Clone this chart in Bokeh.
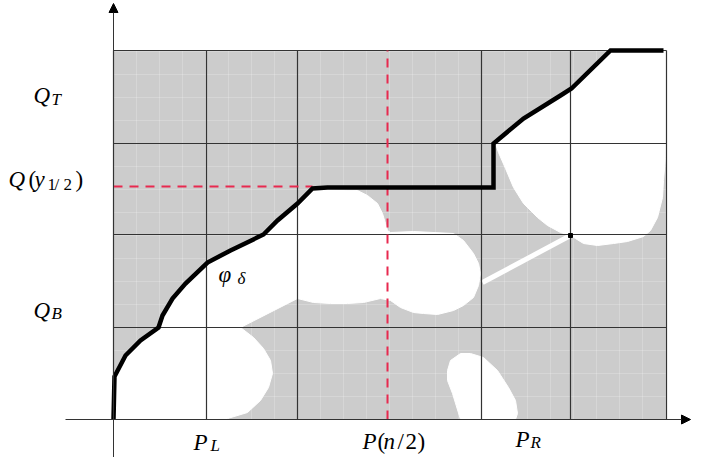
import numpy as np
from bokeh.plotting import figure
from bokeh.models import ColumnDataSource, Arrow, NormalHead, Range1d
from bokeh.embed import file_html
from bokeh.resources import INLINE
from bokeh.core.properties import value

# ---- diagram data (diagram units: u to the right, v upward) ----
col_edges = [0, 93, 184, 368, 457, 553]
row_edges = [0, 92, 185, 276, 369]
minor_step = 23

median_u = 274          # P(n/2)
median_v = 233          # Q(y_1/2)

# staircase-like curve phi_delta
phi_u = [0, 1, 12, 27, 45, 49, 59, 72, 94, 117, 150, 164, 184, 199, 214, 380, 380, 410, 447, 458, 497, 550]
phi_v = [0, 43, 64, 79, 92, 104, 121, 136, 157, 169, 185, 199, 216, 231, 232, 232, 276, 301, 324, 331, 369, 369]

# white (feasible) region below/right of the curve, left part
blob1_u = [0, 1, 12, 27, 45, 49, 59, 72, 94, 117, 150, 164, 184, 199, 214,
           244, 254, 264, 269, 272, 274, 277, 300, 340, 350, 360, 365, 367, 365, 360, 350, 340,
           324, 310, 300, 287, 277, 267, 250, 234, 217, 200, 184,
           127, 140, 150, 157, 159, 155, 147, 134, 114, 94]
blob1_v = [0, 43, 64, 79, 92, 104, 121, 136, 157, 169, 185, 199, 216, 230, 230,
           229, 224, 216, 206, 196, 189, 187, 188, 186, 179, 166, 156, 146, 134, 122, 114, 109,
           105, 106, 107, 112, 119, 121, 117, 116, 116, 117, 121,
           92, 82, 71, 59, 46, 32, 19, 7, 1, 0]

# white region right of the vertical jump
blob2_u = [380, 410, 447, 458, 497, 553, 553, 552, 550, 549, 544, 537, 530, 514, 500, 484, 470, 462,
           457, 447, 434, 424, 410, 400, 392, 385, 382]
blob2_v = [276, 301, 324, 331, 369, 369, 276, 262, 239, 222, 202, 189, 183, 178, 176, 174, 176, 181,
           184, 187, 194, 202, 216, 232, 251, 267, 276]

# small white ellipse at the bottom
blob3_u = [334, 337, 347, 357, 370, 384, 395, 402, 404, 402, 347, 339, 334]
blob3_v = [49, 59, 66, 66, 62, 49, 32, 19, 6, 0, 0, 26, 39]

# thin white bridge
bridge_u = [369, 457]
bridge_v = [137, 184]

# labels (pieces of the math labels)
lab_text = ["Q", "T",
            "Q", "(", "y", "1", "/", "2", ")",
            "Q", "B",
            "P", "L",
            "P", "(", "n", "/", "2", ")",
            "P", "R",
            "φ", "δ"]
lab_u = [-80, -62,
         -105, -85, -79, -66, -59, -50, -38,
         -80, -62,
         80, 97,
         249, 264, 270, 284, 292, 304,
         402, 417,
         105, 124]
lab_v = [324, 320,
         240, 240, 240, 235, 235, 235, 240,
         109, 106,
         -23, -26,
         -22, -22, -22, -22, -22, -22,
         -20, -23,
         145, 141]
lab_size = ["23px", "17px",
            "23px", "23px", "23px", "17px", "17px", "17px", "23px",
            "23px", "17px",
            "23px", "17px",
            "23px", "23px", "23px", "23px", "23px", "23px",
            "23px", "17px",
            "23px", "17px"]
lab_style = ["italic", "italic",
             "italic", "normal", "italic", "normal", "normal", "normal", "normal",
             "italic", "italic",
             "italic", "italic",
             "italic", "normal", "italic", "normal", "normal", "normal",
             "italic", "italic",
             "italic", "italic"]

GRAY = "#cccccc"
LINE = "#333333"
RED = "#e8294f"

p = figure(width=691, height=457, x_range=Range1d(-113, 578), y_range=Range1d(-38, 419),
           output_backend="svg", toolbar_location=None, min_border=0,
           x_axis_type=None, y_axis_type=None)
p.grid.visible = False
p.outline_line_color = None
p.background_fill_color = "white"
p.border_fill_color = "white"

# gray background
p.quad(left=[col_edges[0]], right=[col_edges[-1]], bottom=[row_edges[0]], top=[row_edges[-1]],
       fill_color=GRAY, line_color=None)

# faint minor grid
mu = [m for m in range(minor_step, col_edges[-1], minor_step)]
mv = [m for m in range(minor_step, row_edges[-1], minor_step)]
p.segment(x0=mu, y0=[row_edges[0]] * len(mu), x1=mu, y1=[row_edges[-1]] * len(mu),
          line_color="white", line_alpha=0.2, line_width=1)
p.segment(x0=[col_edges[0]] * len(mv), y0=mv, x1=[col_edges[-1]] * len(mv), y1=mv,
          line_color="white", line_alpha=0.2, line_width=1)

# white regions
p.patches(xs=[blob1_u, blob2_u, blob3_u], ys=[blob1_v, blob2_v, blob3_v],
          fill_color="white", line_color="white", line_width=1)
p.line(bridge_u, bridge_v, line_color="white", line_width=5)

# major grid
p.segment(x0=col_edges, y0=[row_edges[0]] * len(col_edges), x1=col_edges,
          y1=[row_edges[-1]] * len(col_edges), line_color=LINE, line_width=1.2)
p.segment(x0=[col_edges[0]] * len(row_edges), y0=row_edges, x1=[col_edges[-1]] * len(row_edges),
          y1=row_edges, line_color=LINE, line_width=1.2)

# red dashed median lines
p.line([median_u, median_u], [row_edges[0], row_edges[-1]], line_color=RED, line_width=2,
       line_dash="9 7")
p.line([col_edges[0], 199], [median_v, median_v], line_color=RED, line_width=2, line_dash="9 7")

# curve
p.line(phi_u, phi_v, line_color="black", line_width=4.5, line_join="miter")
p.scatter([457], [184], marker="square", size=4, color="black")

# axes with arrows
p.add_layout(Arrow(end=NormalHead(size=9, fill_color="black", line_color="black"),
                   x_start=0, y_start=-46, x_end=0, y_end=416, line_color=LINE, line_width=1))
p.add_layout(Arrow(end=NormalHead(size=9, fill_color="black", line_color="black"),
                   x_start=-48, y_start=0, x_end=577, y_end=0, line_color=LINE, line_width=1))

src = ColumnDataSource(dict(x=lab_u, y=lab_v, t=lab_text, s=lab_size, st=lab_style))
p.text(x="x", y="y", text="t", source=src, text_font=value("Liberation Serif"),
       text_font_style="st", text_font_size="s", text_baseline="alphabetic",
       text_align="left", text_color="black")

open("out.html", "w").write(file_html(p, INLINE))
